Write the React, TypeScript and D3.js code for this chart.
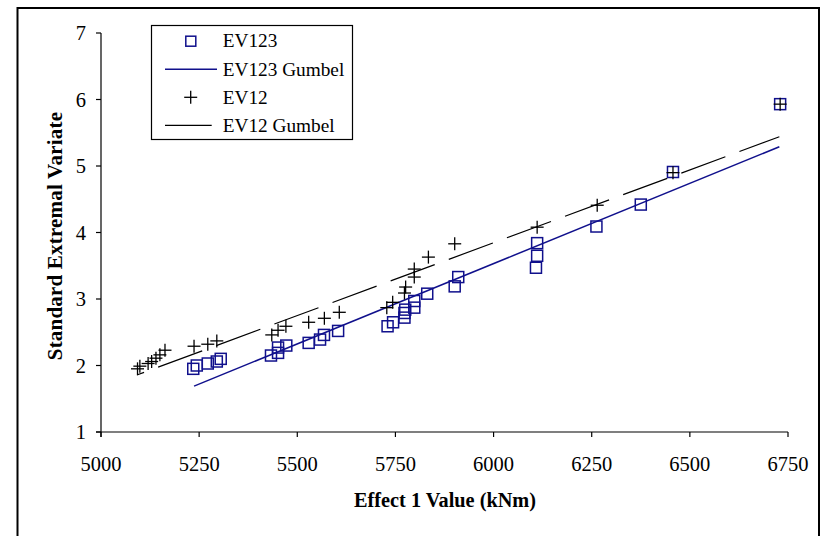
import React from "react";
import * as d3 from "d3";

const xTicks = [5000, 5250, 5500, 5750, 6000, 6250, 6500, 6750];
const yTicks = [1, 2, 3, 4, 5, 6, 7];

const ev123X = [5235, 5244, 5272, 5295, 5305, 5433, 5451, 5451, 5472, 5529, 5558, 5568, 5604, 5730, 5744, 5773, 5773, 5775, 5798, 5798, 5831, 5901, 5910, 6108, 6111, 6111, 6262, 6375, 6457, 6730];
const ev123Y = [1.95, 2.0, 2.03, 2.06, 2.1, 2.15, 2.19, 2.27, 2.3, 2.34, 2.39, 2.46, 2.52, 2.59, 2.65, 2.72, 2.79, 2.84, 2.87, 2.97, 3.08, 3.19, 3.33, 3.47, 3.65, 3.84, 4.09, 4.42, 4.91, 5.93];

const ev12X = [5093, 5099, 5120, 5129, 5140, 5150, 5163, 5237, 5272, 5295, 5435, 5451, 5471, 5529, 5569, 5607, 5728, 5743, 5773, 5776, 5798, 5798, 5834, 5901, 6111, 6264, 6457, 6730];
const ev12Y = [1.95, 1.99, 2.03, 2.06, 2.11, 2.16, 2.23, 2.29, 2.32, 2.37, 2.46, 2.53, 2.59, 2.65, 2.71, 2.8, 2.87, 2.95, 3.09, 3.18, 3.33, 3.45, 3.63, 3.83, 4.08, 4.41, 4.9, 5.93];

const ev123GumbelX = [5237, 6728];
const ev123GumbelY = [1.69, 5.29];
const ev12GumbelX = [5093, 6728];
const ev12GumbelY = [1.86, 5.44];

const legendLabels = ["EV123", "EV123 Gumbel", "EV12", "EV12 Gumbel"];

const BLUE = "#10108c";
const FONT = "'Liberation Serif', 'Times New Roman', serif";

export default function App() {
  const x = d3.scaleLinear().domain([5000, 6750]).range([101, 788]);
  const y = d3.scaleLinear().domain([1, 7]).range([432, 33]);
  const line = d3
    .line<[number, number]>()
    .x((d) => x(d[0]))
    .y((d) => y(d[1]));

  const blueLine = line(ev123GumbelX.map((v, i) => [v, ev123GumbelY[i]]));
  const blackLine = line(ev12GumbelX.map((v, i) => [v, ev12GumbelY[i]]));

  const sq = 11;
  const cr = 6.5;

  return (
    <svg
      width={823}
      height={536}
      style={{ position: "absolute", left: 0, top: 0, background: "#fff" }}
      fontFamily={FONT}
    >
      <rect x={0} y={0} width={823} height={536} fill="#fff" />
      <rect x={17.5} y={8} width={801.5} height={560} fill="none" stroke="#000" strokeWidth={2} />

      {/* axes */}
      <line x1={101} x2={101} y1={y(7)} y2={437} stroke="#000" strokeWidth={1.2} />
      <line x1={96} x2={x(6750)} y1={432} y2={432} stroke="#000" strokeWidth={1.2} />
      {yTicks.map((t) => (
        <g key={"y" + t}>
          <line x1={96} x2={101} y1={y(t)} y2={y(t)} stroke="#000" strokeWidth={1.2} />
          <text x={86} y={y(t)} dy="0.35em" textAnchor="end" fontSize={20.5} fill="#000">
            {t}
          </text>
        </g>
      ))}
      {xTicks.map((t) => (
        <g key={"x" + t}>
          <line x1={x(t)} x2={x(t)} y1={432} y2={437} stroke="#000" strokeWidth={1.2} />
          <text x={x(t)} y={471} textAnchor="middle" fontSize={20.5} fill="#000">
            {t}
          </text>
        </g>
      ))}

      <text x={445} y={507} textAnchor="middle" fontSize={20.3} fontWeight="bold" fill="#000">
        Effect 1 Value (kNm)
      </text>
      <text
        transform="translate(61.5,236) rotate(-90)"
        textAnchor="middle"
        fontSize={21}
        fontWeight="bold"
        letterSpacing={0.2}
        fill="#000"
      >
        Standard Extremal Variate
      </text>

      {/* Gumbel lines */}
      <path d={blackLine || ""} fill="none" stroke="#000" strokeWidth={1.2} strokeDasharray="47 15" strokeDashoffset={40} />
      <path d={blueLine || ""} fill="none" stroke={BLUE} strokeWidth={1.5} />

      {/* EV123 squares */}
      {ev123X.map((v, i) => (
        <rect
          key={"s" + i}
          x={x(v) - sq / 2}
          y={y(ev123Y[i]) - sq / 2}
          width={sq}
          height={sq}
          fill="none"
          stroke={BLUE}
          strokeWidth={1.5}
        />
      ))}
      {/* EV12 crosses */}
      {ev12X.map((v, i) => (
        <g key={"c" + i} stroke="#000" strokeWidth={1.3}>
          <line x1={x(v) - cr} x2={x(v) + cr} y1={y(ev12Y[i])} y2={y(ev12Y[i])} />
          <line x1={x(v)} x2={x(v)} y1={y(ev12Y[i]) - cr} y2={y(ev12Y[i]) + cr} />
        </g>
      ))}

      {/* legend */}
      <rect x={151.5} y={25.5} width={201} height={114} fill="#fff" stroke="#000" strokeWidth={1.2} />
      <rect x={190.8 - 5} y={41.2 - 5} width={10} height={10} fill="none" stroke={BLUE} strokeWidth={1.5} />
      <line x1={165} x2={217} y1={69.3} y2={69.3} stroke={BLUE} strokeWidth={1.5} />
      <g stroke="#000" strokeWidth={1.3}>
        <line x1={190.7 - 6.5} x2={190.7 + 6.5} y1={97.3} y2={97.3} />
        <line x1={190.7} x2={190.7} y1={97.3 - 6.5} y2={97.3 + 6.5} />
      </g>
      <line x1={165} x2={211.7} y1={125.3} y2={125.3} stroke="#000" strokeWidth={1.2} />
      {legendLabels.map((l, i) => (
        <text key={l} x={222.7} y={47.3 + i * 28.2} fontSize={19.3} fill="#000">
          {l}
        </text>
      ))}
    </svg>
  );
}
